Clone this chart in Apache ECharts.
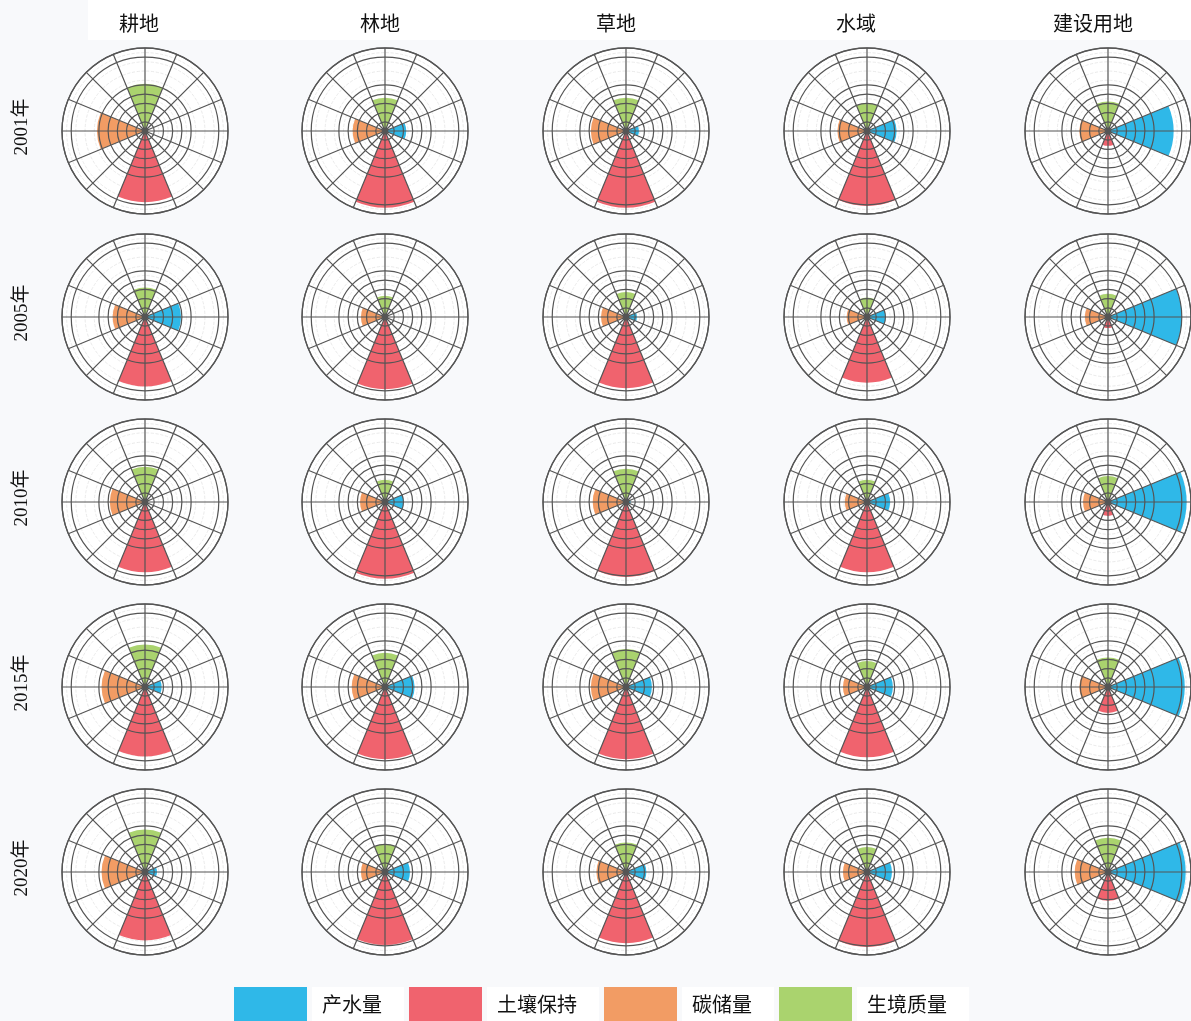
<!DOCTYPE html>
<html>
<head>
<meta charset="utf-8">
<script src="https://cdn.jsdelivr.net/npm/echarts@6/dist/echarts.min.js"></script>
<style>
html, body {margin: 0; padding: 0; background: #f8f9fb;}
#main {width: 1191px; height: 1021px;}
</style>
</head>
<body>
<div id="main"></div>
<script>
var landTypes = ['耕地', '林地', '草地', '水域', '建设用地'];
var years = ['2001年', '2005年', '2010年', '2015年', '2020年'];
// angle order: top, right, bottom, left
var indicators = ['生境质量', '产水量', '土壤保持', '碳储量'];
var legendNames = ['产水量', '土壤保持', '碳储量', '生境质量'];
var colorMap = {'产水量': '#2fb8e8', '土壤保持': '#f0636e', '碳储量': '#f29c64', '生境质量': '#aad36e'};

// rows = years, columns = land types
var habitat = [
    [51, 36, 36, 30, 32],
    [32, 23, 27, 21, 25],
    [38, 24, 36, 24, 28],
    [46, 37, 41, 28, 32],
    [46, 30, 32, 27, 37]
];
var waterYield = [
    [1, 23, 14, 32, 71],
    [39, 3, 12, 20, 80],
    [0, 20, 5, 25, 85],
    [18, 32, 28, 28, 83],
    [13, 27, 22, 27, 84]
];
var soilRetention = [
    [77, 83, 83, 81, 16],
    [75, 78, 77, 71, 12],
    [76, 83, 81, 76, 15],
    [75, 78, 78, 76, 28],
    [74, 79, 77, 81, 31]
];
var carbonStorage = [
    [52, 35, 38, 32, 31],
    [35, 26, 27, 22, 25],
    [38, 27, 36, 24, 27],
    [47, 36, 38, 26, 31],
    [47, 26, 32, 26, 36]
];
var radiusMax = 90;

var colX = [145, 385, 626, 867, 1108];
var rowY = [131, 317, 502, 687, 872];
var R = 83;

var T = 'rgba(0,0,0,0)';
// dark rings drawn above the bars, faint ones below
var darkRings = ['#555', '#555', '#555', '#555', '#555', '#555', T, T, '#555', '#555'];
var faintRings = [T, T, T, T, T, T, '#dcdcdc', '#dcdcdc', T, T];

var polar = [], angleAxis = [], radiusAxis = [], series = [], graphic = [];

function valuesFor(name, i, j) {
    if(name === '生境质量') return habitat[i][j];
    if(name === '产水量') return waterYield[i][j];
    if(name === '土壤保持') return soilRetention[i][j];
    return carbonStorage[i][j];
}

for(var i = 0; i < years.length; i++) {
    for(var j = 0; j < landTypes.length; j++) {
        var p = polar.length;
        polar.push({center: [colX[j], rowY[i]], radius: R});
        angleAxis.push({
            polarIndex: p, type: 'category', data: indicators, startAngle: 135,
            axisLine: {show: false}, axisTick: {show: false}, axisLabel: {show: false}, splitLine: {show: false}
        });
        radiusAxis.push({
            polarIndex: p, type: 'value', min: 0, max: radiusMax, interval: 10,
            axisLine: {show: false}, axisTick: {show: false}, axisLabel: {show: false},
            splitLine: {show: true, lineStyle: {color: faintRings, width: 1}},
            minorTick: {show: false, splitNumber: 2},
            minorSplitLine: {show: true, lineStyle: {color: '#e4e4e4', type: 'dashed', width: 0.8}},
            splitArea: {show: true, areaStyle: {color: ['#ffffff']}}
        });
        for(var k = 0; k < indicators.length; k++) {
            var name = indicators[k];
            var data = ['-', '-', '-', '-'];
            data[k] = valuesFor(name, i, j);
            series.push({
                name: name,
                type: 'bar',
                coordinateSystem: 'polar',
                polarIndex: p,
                stack: 'c' + p,
                barCategoryGap: '50%',
                itemStyle: {color: colorMap[name]},
                data: data
            });
        }
        // grid on top of the bars
        var g = polar.length;
        polar.push({center: [colX[j], rowY[i]], radius: R});
        angleAxis.push({
            polarIndex: g, type: 'value', min: 0, max: 360, interval: 22.5, startAngle: 90, z: 10,
            axisLine: {show: true, lineStyle: {color: '#555', width: 1.3}},
            axisTick: {show: false}, axisLabel: {show: false},
            splitLine: {show: true, lineStyle: {color: '#555', width: 1.2}}
        });
        radiusAxis.push({
            polarIndex: g, type: 'value', min: 0, max: radiusMax, interval: 10, z: 10,
            axisLine: {show: false}, axisTick: {show: false}, axisLabel: {show: false},
            splitLine: {show: true, lineStyle: {color: darkRings, width: 1.2}}
        });
    }
}

graphic.push({type: 'rect', shape: {x: 88, y: 0, width: 1103, height: 40}, style: {fill: '#ffffff'}, z: -1});
var headX = [139, 380, 616, 856, 1093];
for(var j = 0; j < landTypes.length; j++) {
    graphic.push({
        type: 'text', x: headX[j], y: 23,
        style: {text: landTypes[j], fill: '#111', font: '20px "Noto Sans CJK SC"', align: 'center', verticalAlign: 'middle'}
    });
}
for(var i = 0; i < years.length; i++) {
    graphic.push({
        type: 'text', x: 22, y: rowY[i] - 4, rotation: Math.PI / 2,
        style: {text: years[i], fill: '#111', font: '19px "Liberation Serif", "Noto Sans CJK SC"', align: 'center', verticalAlign: 'middle'}
    });
}

var chart = echarts.init(document.getElementById('main'));
chart.setOption({
    backgroundColor: '#f8f9fb',
    animation: false,
    legend: {
        data: legendNames,
        left: 234, top: 987, padding: 0,
        icon: 'rect', itemWidth: 73, itemHeight: 34, itemGap: 5,
        textStyle: {fontSize: 20, color: '#111', fontFamily: 'Noto Sans CJK SC', backgroundColor: '#fff', padding: [7, 22, 7, 10]}
    },
    graphic: graphic,
    polar: polar,
    angleAxis: angleAxis,
    radiusAxis: radiusAxis,
    series: series
});
</script>
</body>
</html>
